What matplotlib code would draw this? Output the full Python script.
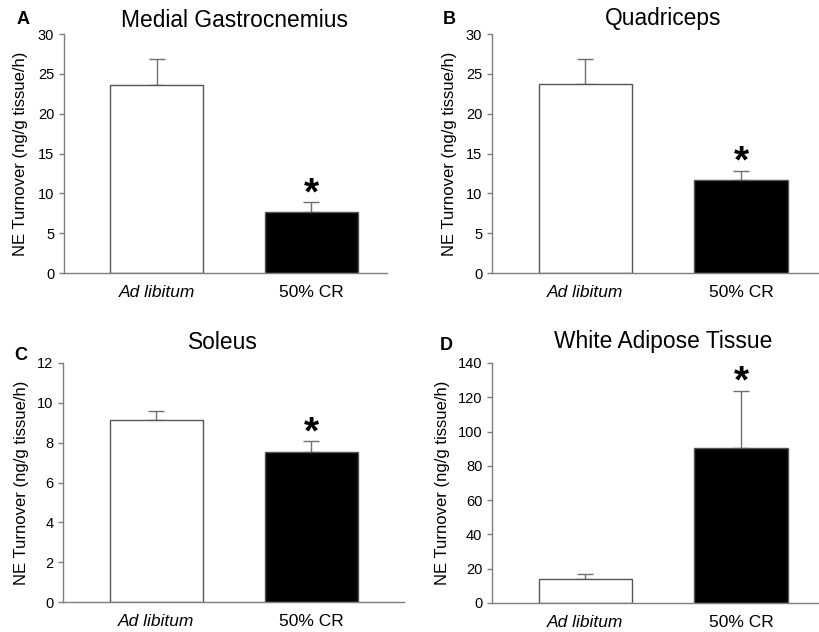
import matplotlib

matplotlib.use("Agg")
import matplotlib.pyplot as plt

plt.rcParams["font.family"] = ["Liberation Sans", "DejaVu Sans"]

groups = ["Ad libitum", "50% CR"]
titles = ["Medial Gastrocnemius", "Quadriceps", "Soleus", "White Adipose Tissue"]
letters = ["A", "B", "C", "D"]
means_a = [23.6, 7.6]
sem_a = [3.2, 1.3]
means_b = [23.7, 11.7]
sem_b = [3.1, 1.15]
means_c = [9.15, 7.52]
sem_c = [0.42, 0.54]
means_d = [13.9, 90.5]
sem_d = [3.1, 33.2]
ymax = [30, 30, 12, 140]
ystep = [5, 5, 2, 20]
signif = [1, 1, 1, 1]  # index of the bar marked with *

GRAY = "#7f7f7f"
W, H = 819, 632

# axes boxes in pixels: left, right, bottom(y of zero), top
boxes = [(64, 387, 273, 34), (492, 822, 273, 34),
         (63, 404, 602, 363), (492, 822, 603, 363)]
xlims = [(-0.6, 1.49), (-0.6, 1.52), (-0.6, 1.6), (-0.6, 1.52)]
title_x = [0.5, 0.5, 0.43, 0.5]
title_off = [7, 9, 14, 15]          # pixels from axes top to title baseline
ylabel_x = [21, 449, 22, 442]
letter_pos = [(23, 20), (449, 20), (21, 355), (446, 345)]

fig = plt.figure(figsize=(W / 100, H / 100), dpi=100)
data = [(means_a, sem_a), (means_b, sem_b), (means_c, sem_c), (means_d, sem_d)]

for i, (means, sem) in enumerate(data):
    l, r, b, t = boxes[i]
    ax = fig.add_axes([l / W, 1 - b / H, (r - l) / W, (b - t) / H])
    x = [0, 1]
    ax.errorbar(x, means, yerr=[[0, 0], sem], fmt="none", ecolor="#707070",
                elinewidth=1.0, capsize=5.6, capthick=1.0, zorder=1)
    ax.bar(x, means, width=0.6, color=["white", "black"],
           edgecolor=["#555555", "#555555"], linewidth=1.0, zorder=2)
    ax.set_xlim(*xlims[i])
    ax.set_ylim(0, ymax[i])
    ax.set_yticks(range(0, ymax[i] + 1, ystep[i]))
    ax.set_xticks(x)
    ax.set_xticklabels(groups)
    ax.get_xticklabels()[0].set_style("italic")
    ax.tick_params(axis="x", length=0, pad=8.4, labelsize=12.5)
    ax.tick_params(axis="y", length=3.6, width=1, color=GRAY, labelsize=10.5, pad=3.4)
    for s in ("top", "right"):
        ax.spines[s].set_visible(False)
    for s in ("left", "bottom"):
        ax.spines[s].set_color(GRAY)
        ax.spines[s].set_linewidth(1.0)
    fig.text(ylabel_x[i] / W, 1 - (b + t) / 2 / H, "NE Turnover (ng/g tissue/h)",
             rotation=90, ha="center", va="center", fontsize=12)
    ax.annotate(titles[i], xy=(title_x[i], 1), xycoords=("data", "axes fraction"),
                xytext=(0, title_off[i]), textcoords="offset pixels",
                ha="center", va="baseline", fontsize=16.4)
    k = signif[i]
    ax.annotate("*", xy=(k, means[k] + sem[k]), xytext=(0, -2),
                textcoords="offset pixels", ha="center", va="baseline",
                fontsize=28, fontweight="bold")
    lx, ly = letter_pos[i]
    fig.text(lx / W, 1 - ly / H, letters[i], ha="center", va="center",
             fontsize=13, fontweight="bold")

fig.savefig("out.png", dpi=100)
